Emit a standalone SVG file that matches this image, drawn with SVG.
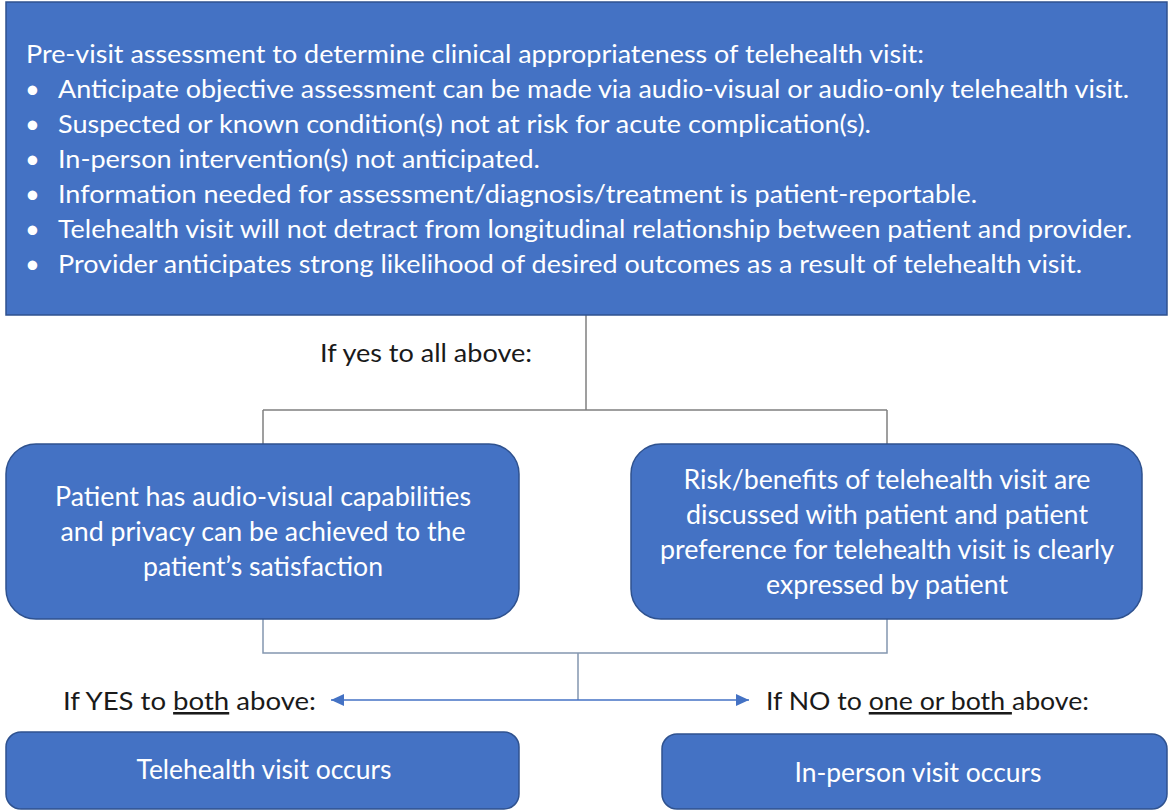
<svg xmlns="http://www.w3.org/2000/svg" width="1169" height="810" viewBox="0 0 1169 810">
  <style>
    .box { fill: #4472C4; stroke: #2F528F; stroke-width: 1.5; }
    .wt { font-family: Lato, "Liberation Sans", sans-serif; fill: #ffffff; font-size: 25.5px; }
    .wc { font-family: Lato, "Liberation Sans", sans-serif; fill: #ffffff; font-size: 26px; text-anchor: middle; }
    .lbl { font-family: Lato, "Liberation Sans", sans-serif; fill: #1a1a1a; font-size: 25.5px; }
    .conn { fill: none; stroke: #808080; stroke-width: 1.5; }
    .conn2 { fill: none; stroke: #8497B0; stroke-width: 1.5; }
    .arr { fill: none; stroke: #4472C4; stroke-width: 1.5; }
    .u { text-decoration: underline; }
  </style>
  <defs>
    <marker id="ah" markerUnits="userSpaceOnUse" markerWidth="14" markerHeight="12" refX="13" refY="6" orient="auto">
      <path d="M0,0 L13,6 L0,12 Z" fill="#4472C4"/>
    </marker>
  </defs>
  <rect width="1169" height="810" fill="#ffffff"/>

  <g id="connectors">
    <path class="conn" d="M586,315 V410 M263,410 H887 M263,410 V444 M887,410 V444"/>
    <path class="conn2" d="M263,619 V653 H887 V619 M578,653 V700"/>
    <path class="arr" d="M578,700 H331" marker-end="url(#ah)"/>
    <path class="arr" d="M578,700 H749" marker-end="url(#ah)"/>
  </g>

  <g id="assessment">
    <rect class="box" x="6" y="2" width="1161" height="313"/>
    <text class="wt" x="26" y="63" textLength="898" lengthAdjust="spacingAndGlyphs">Pre-visit assessment to determine clinical appropriateness of telehealth visit:</text>
    <text class="wt" x="25" y="98">•</text>
    <text class="wt" x="58" y="98" textLength="1071" lengthAdjust="spacingAndGlyphs">Anticipate objective assessment can be made via audio-visual or audio-only telehealth visit.</text>
    <text class="wt" x="25" y="133">•</text>
    <text class="wt" x="58" y="133" textLength="813" lengthAdjust="spacingAndGlyphs">Suspected or known condition(s) not at risk for acute complication(s).</text>
    <text class="wt" x="25" y="168">•</text>
    <text class="wt" x="58" y="168" textLength="482" lengthAdjust="spacingAndGlyphs">In-person intervention(s) not anticipated.</text>
    <text class="wt" x="25" y="203">•</text>
    <text class="wt" x="58" y="203" textLength="919" lengthAdjust="spacingAndGlyphs">Information needed for assessment/diagnosis/treatment is patient-reportable.</text>
    <text class="wt" x="25" y="238">•</text>
    <text class="wt" x="58" y="238" textLength="1074" lengthAdjust="spacingAndGlyphs">Telehealth visit will not detract from longitudinal relationship between patient and provider.</text>
    <text class="wt" x="25" y="273">•</text>
    <text class="wt" x="58" y="273" textLength="1024" lengthAdjust="spacingAndGlyphs">Provider anticipates strong likelihood of desired outcomes as a result of telehealth visit.</text>
  </g>

  <g id="label-yes-all">
    <text class="lbl" x="320" y="362" textLength="212" lengthAdjust="spacingAndGlyphs">If yes to all above:</text>
  </g>

  <g id="capabilities">
    <rect class="box" x="6" y="444" width="513" height="175" rx="30" ry="30"/>
    <text class="wc" x="263" y="506" textLength="416" lengthAdjust="spacingAndGlyphs">Patient has audio-visual capabilities</text>
    <text class="wc" x="263" y="541" textLength="405" lengthAdjust="spacingAndGlyphs">and privacy can be achieved to the</text>
    <text class="wc" x="263" y="576" textLength="240" lengthAdjust="spacingAndGlyphs">patient’s satisfaction</text>
  </g>

  <g id="preference">
    <rect class="box" x="631" y="444" width="511" height="175" rx="30" ry="30"/>
    <text class="wc" x="887" y="489" textLength="407" lengthAdjust="spacingAndGlyphs">Risk/benefits of telehealth visit are</text>
    <text class="wc" x="887" y="524" textLength="402" lengthAdjust="spacingAndGlyphs">discussed with patient and patient</text>
    <text class="wc" x="887" y="559" textLength="454" lengthAdjust="spacingAndGlyphs">preference for telehealth visit is clearly</text>
    <text class="wc" x="887" y="594" textLength="242" lengthAdjust="spacingAndGlyphs">expressed by patient</text>
  </g>

  <g id="label-yes-both">
    <text class="lbl" x="63" y="710" textLength="253" lengthAdjust="spacingAndGlyphs">If YES to <tspan class="u">both</tspan> above:</text>
  </g>

  <g id="label-no">
    <text class="lbl" x="766" y="710" textLength="323" lengthAdjust="spacingAndGlyphs">If NO to <tspan class="u">one or both </tspan>above:</text>
  </g>

  <g id="telehealth">
    <rect class="box" x="6" y="732" width="513" height="77" rx="15" ry="15"/>
    <text class="wc" x="264" y="779" textLength="255" lengthAdjust="spacingAndGlyphs">Telehealth visit occurs</text>
  </g>

  <g id="inperson">
    <rect class="box" x="662" y="734" width="505" height="75" rx="15" ry="15"/>
    <text class="wc" x="918" y="782" textLength="247" lengthAdjust="spacingAndGlyphs">In-person visit occurs</text>
  </g>
</svg>
